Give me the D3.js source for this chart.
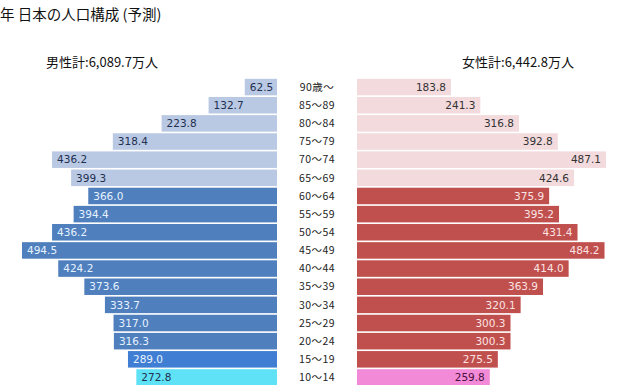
<!DOCTYPE html>
<html><head><meta charset="utf-8">
<script src="https://cdn.jsdelivr.net/npm/d3@7"></script>
<style>body{margin:0;background:#fff;overflow:hidden}</style>
</head><body><svg id="c" width="617" height="385"></svg>
<script>
const ages = ["90歳〜","85〜89","80〜84","75〜79","70〜74","65〜69","60〜64","55〜59","50〜54","45〜49","40〜44","35〜39","30〜34","25〜29","20〜24","15〜19","10〜14"];
const male = [62.5,132.7,223.8,318.4,436.2,399.3,366.0,394.4,436.2,494.5,424.2,373.6,333.7,317.0,316.3,289.0,272.8];
const female = [183.8,241.3,316.8,392.8,487.1,424.6,375.9,395.2,431.4,484.2,414.0,363.9,320.1,300.3,300.3,275.5,259.8];
const groups = ["old","old","old","old","old","old","work","work","work","work","work","work","work","work","work","teen","child"];
const title = "年 日本の人口構成 (予測)";
const maleTotal = "男性計:6,089.7万人";
const femaleTotal = "女性計:6,442.8万人";

const svg = d3.select("#c");
const font = "'Noto Sans CJK JP','Noto Sans',sans-serif";
const y = d3.scaleBand().domain(ages).range([78, 78 + 18.15*17]).paddingInner(0.09).paddingOuter(0.045);
const xl = d3.scaleLinear().domain([0, 494.5]).range([277, 22]);
const xr = d3.scaleLinear().domain([0, 487.1]).range([357, 606]);
const mFill = {old:"#b9c9e3", work:"#4f7fbd", teen:"#3f7ed3", child:"#5fe2f6"};
const mText = {old:"#1f2f50", work:"#e6f2ff", teen:"#e6f2ff", child:"#1f3050"};
const fFill = {old:"#f2dadd", work:"#c0504d", teen:"#c0504d", child:"#f28ad8"};
const fText = {old:"#333", work:"#fbe3e3", teen:"#fbe3e3", child:"#4a1040"};

svg.append("text").attr("x",0).attr("y",20).attr("font-family",font).attr("font-size",14.5).attr("fill","#111").text(title);
svg.append("text").attr("x",102).attr("y",67).attr("text-anchor","middle").attr("font-family",font).attr("font-size",13).attr("fill","#111").text(maleTotal);
svg.append("text").attr("x",518).attr("y",67).attr("text-anchor","middle").attr("font-family",font).attr("font-size",13).attr("fill","#111").text(femaleTotal);

const g = svg.append("g");
ages.forEach((a,i)=>{
  const yy = y(a), h = y.bandwidth(), k = groups[i];
  g.append("rect").attr("x",xl(male[i])).attr("y",yy).attr("width",xl(0)-xl(male[i])).attr("height",h).attr("fill",mFill[k]);
  g.append("text").attr("x",xl(male[i])+5).attr("y",yy+h/2).attr("dy","0.35em").attr("font-family","'DejaVu Sans',sans-serif").attr("font-size",10.5).attr("fill",mText[k]).text(male[i].toFixed(1));
  g.append("rect").attr("x",xr(0)).attr("y",yy).attr("width",xr(female[i])-xr(0)).attr("height",h).attr("fill",fFill[k]);
  g.append("text").attr("x",xr(female[i])-5).attr("y",yy+h/2).attr("dy","0.35em").attr("text-anchor","end").attr("font-family","'DejaVu Sans',sans-serif").attr("font-size",10.5).attr("fill",fText[k]).text(female[i].toFixed(1));
  g.append("text").attr("x",317).attr("y",yy+h/2).attr("dy","0.35em").attr("text-anchor","middle").attr("font-family",font).attr("font-size",10.5).attr("letter-spacing",0.4).attr("fill","#222").text(a);
});
</script></body></html>
